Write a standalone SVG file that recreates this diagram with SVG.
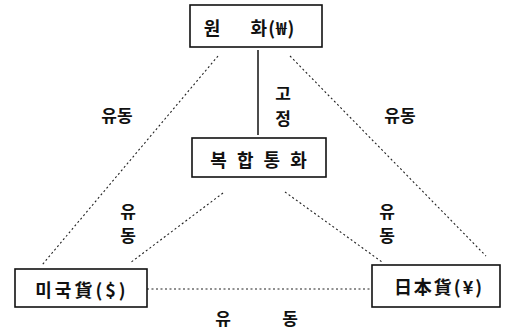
<svg xmlns="http://www.w3.org/2000/svg" width="505" height="332" viewBox="0 0 505 332">
<style>
.box{fill:#fff;stroke:#111;stroke-width:1.6}
.t{font-family:"Noto Sans CJK KR","Noto Sans CJK JP",sans-serif;font-size:17px;font-weight:bold;fill:#111;text-anchor:middle;dominant-baseline:central}
.b{font-size:18px}
.dot{stroke:#222;stroke-width:1.1;stroke-dasharray:2 2.5;fill:none}
.solid{stroke:#111;stroke-width:1.5;fill:none}
</style>
<rect width="505" height="332" fill="#fff"/>
<g id="connectors">
<line class="solid" x1="258" y1="50" x2="258" y2="135"/>
<line class="dot" x1="218" y1="56" x2="42" y2="265"/>
<line class="dot" x1="290" y1="56" x2="486" y2="256"/>
<line class="dot" x1="223" y1="193" x2="130" y2="263"/>
<line class="dot" x1="285" y1="192" x2="382" y2="262"/>
<line class="dot" x1="147" y1="289" x2="372" y2="289"/>
<text class="t" x="283" y="92">고</text>
<text class="t" x="283" y="117">정</text>
<text class="t" x="117" y="114">유동</text>
<text class="t" x="400" y="114">유동</text>
<text class="t" x="128" y="210">유</text>
<text class="t" x="128" y="234">동</text>
<text class="t" x="387" y="210">유</text>
<text class="t" x="387" y="234">동</text>
<text class="t" x="223" y="317">유</text>
<text class="t" x="290" y="317">동</text>
</g>
<g id="won">
<rect class="box" x="190" y="5" width="132" height="42"/>
<text class="t b" x="212" y="27">원</text>
<text class="t b" x="273" y="27" letter-spacing="1">화(₩)</text>
</g>
<g id="composite">
<rect class="box" x="192" y="138" width="134" height="39"/>
<text class="t b" x="260" y="159" letter-spacing="3" xml:space="preserve">복 합 통 화</text>
</g>
<g id="usd">
<rect class="box" x="15" y="269" width="132" height="38"/>
<text class="t b" x="82" y="289" letter-spacing="3">미국貨($)</text>
</g>
<g id="jpy">
<rect class="box" x="372" y="265" width="128" height="42"/>
<text class="t b" x="439" y="286" letter-spacing="2">日本貨(¥)</text>
</g>
</svg>
